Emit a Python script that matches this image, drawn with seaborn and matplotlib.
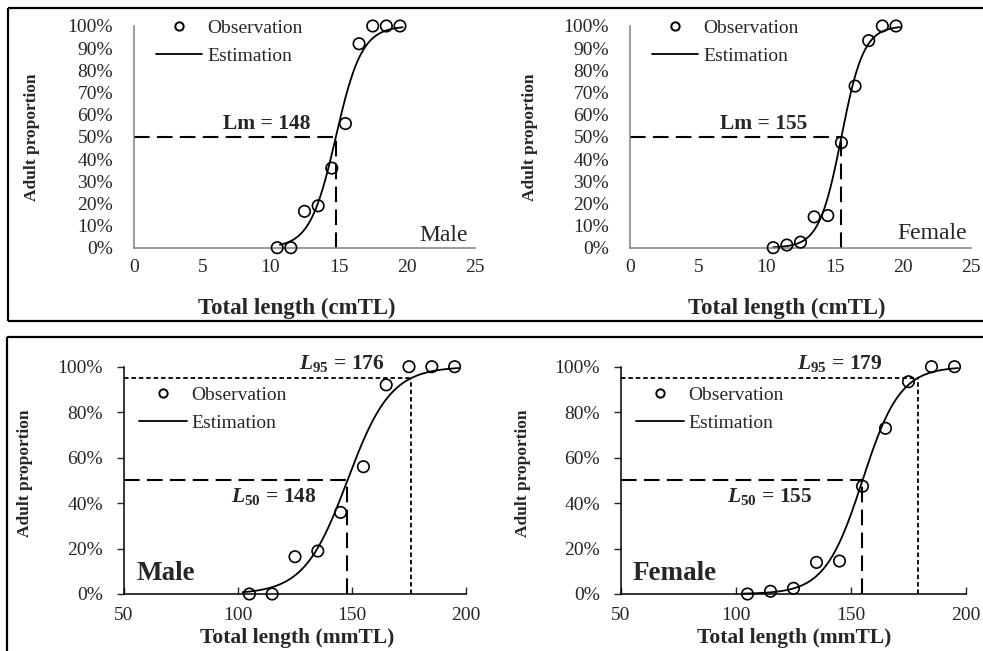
import numpy as np
import pandas as pd
import matplotlib
matplotlib.use("Agg")
import matplotlib.pyplot as plt
from matplotlib.lines import Line2D
import seaborn as sns

sns.set_style("white")
plt.rcParams['font.family'] = ['Liberation Serif', 'DejaVu Serif']
plt.rcParams['mathtext.fontset'] = 'custom'
plt.rcParams['mathtext.rm'] = 'Liberation Serif'
plt.rcParams['mathtext.it'] = 'Liberation Serif:italic'
plt.rcParams['mathtext.bf'] = 'Liberation Serif:bold'
plt.rcParams['mathtext.bfit'] = 'Liberation Serif:italic:bold'

# ---------------- data ----------------
length_cm = [10.5, 11.5, 12.5, 13.5, 14.5, 15.5, 16.5, 17.5, 18.5, 19.5]
length_mm = [105, 115, 125, 135, 145, 155, 165, 175, 185, 195]
male_pct = [0, 0, 16.4, 18.9, 35.9, 56.0, 92.0, 100, 100, 100]
female_pct = [0, 1.2, 2.5, 13.9, 14.5, 47.4, 72.9, 93.4, 100, 100]

male_L50, male_L95 = 148, 176        # mm
female_L50, female_L95 = 155, 179    # mm

pct_ticks_top = [0, 10, 20, 30, 40, 50, 60, 70, 80, 90, 100]
pct_ticks_bottom = [0, 20, 40, 60, 80, 100]
x_ticks_cm = [0, 5, 10, 15, 20, 25]
x_ticks_mm = [50, 100, 150, 200]

obs_label = "Observation"
est_label = "Estimation"
ylab = "Adult proportion"
xlab_cm = "Total length (cmTL)"
xlab_mm = "Total length (mmTL)"


def logistic(L, L50, L95):
    r = np.log(19.0) / (L95 - L50)
    return 100.0 / (1.0 + np.exp(-r * (L - L50)))


W, H = 983, 651
fig = plt.figure(figsize=(W / 100, H / 100), dpi=100)


def px_axes(left, right, top, bottom):
    return fig.add_axes([left / W, 1 - bottom / H, (right - left) / W, (bottom - top) / H])


def fig_line(x0, y0, x1, y1):
    fig.add_artist(Line2D([x0 / W, x1 / W], [1 - y0 / H, 1 - y1 / H], color='black',
                          lw=1.6, transform=fig.transFigure, solid_capstyle='butt'))


# boxes
fig_line(8, 8, 983, 8)
fig_line(8, 8, 8, 320.5)
fig_line(8, 320.5, 983, 320.5)
fig_line(7, 336.5, 983, 336.5)
fig_line(7, 336.5, 7, 651)

CURVE_LW = 1.3
DASH = (0, (7.5, 3.5))
DOT = (0, (2.5, 1.6))


def draw_panel(ax, xs, obs, L50, L95, unit, curve_range, top):
    cx = np.linspace(curve_range[0], curve_range[1], 300)
    cy = logistic(cx * unit, L50, L95)
    sns.lineplot(x=cx, y=cy, ax=ax, color='black', lw=CURVE_LW, zorder=2)
    ax.lines[-1].set_clip_on(False)
    sns.scatterplot(x=xs, y=obs, ax=ax, s=68, marker='o', zorder=3)
    coll = ax.collections[-1]
    coll.set_facecolor('none')
    coll.set_edgecolor('black')
    coll.set_linewidth(1.2)
    coll.set_clip_on(False)

    x50 = L50 / unit
    x0 = ax.get_xlim()[0]
    ax.plot([x0, x50], [50, 50], color='black', ls=DASH, lw=1.5, zorder=1)
    ax.plot([x50, x50], [0, 50], color='black', ls=DASH, lw=1.5, zorder=1)
    if not top:
        x95 = L95 / unit
        ax.plot([x0, x95], [95, 95], color='black', ls=DOT, lw=1.3, zorder=1)
        ax.plot([x95, x95], [0, 95], color='black', ls=DOT, lw=1.3, zorder=1)

    for s in ['top', 'right']:
        ax.spines[s].set_visible(False)
    ax.set_facecolor('none')

    handles = [Line2D([], [], marker='o', ls='none', mfc='none', mec='black', ms=6, mew=1.4),
               Line2D([], [], color='black', lw=CURVE_LW)]
    return handles


# ---------- top-left ----------
ax1 = px_axes(134, 475, 26, 247.7)
ax1.set_xlim(0, 25)
ax1.set_ylim(0, 100)
h = draw_panel(ax1, length_cm, male_pct, male_L50, male_L95, 10, (10.7, 19.7), True)
# ---------- top-right ----------
ax2 = px_axes(630, 971, 26, 247.7)
ax2.set_xlim(0, 25)
ax2.set_ylim(0, 100)
draw_panel(ax2, length_cm, female_pct, female_L50, female_L95, 10, (10.5, 19.8), True)
# ---------- bottom-left ----------
ax3 = px_axes(124, 466, 366.7, 594)
ax3.set_xlim(50, 200)
ax3.set_ylim(0, 100)
draw_panel(ax3, length_mm, male_pct, male_L50, male_L95, 1, (102, 197), False)
# ---------- bottom-right ----------
ax4 = px_axes(621, 966, 366.7, 594)
ax4.set_xlim(50, 200)
ax4.set_ylim(0, 100)
draw_panel(ax4, length_mm, female_pct, female_L50, female_L95, 1, (103, 196.5), False)

TICK_FS = 14
LEG_FS = 14
XLAB_FS = 16.5
for ax in (ax1, ax2):
    ax.set_xticks(x_ticks_cm)
    ax.set_xticklabels([str(v) for v in x_ticks_cm])
    ax.set_yticks(pct_ticks_top)
    ax.set_yticklabels([f"{v}%" for v in pct_ticks_top])
    ax.tick_params(axis='y', length=0, pad=15, labelsize=TICK_FS)
    ax.tick_params(axis='x', length=0, pad=8, labelsize=TICK_FS)
    for s in ['left', 'bottom']:
        ax.spines[s].set_color('#808080')
        ax.spines[s].set_linewidth(1.1)
    ax.set_xlabel(xlab_cm, fontsize=XLAB_FS, fontweight='bold', va='center')
    ax.set_ylabel(ylab, fontsize=12.5, fontweight='bold', va='center')
    ax.legend(h, [obs_label, est_label], loc='upper left', bbox_to_anchor=(0.064, 1.03),
              frameon=False, fontsize=LEG_FS, handlelength=2.4, handletextpad=0.25,
              labelspacing=0.55, borderpad=0, borderaxespad=0, numpoints=1)

ax1.xaxis.set_label_coords(0.478, -0.272)
ax2.xaxis.set_label_coords(0.46, -0.272)
ax1.yaxis.set_label_coords(-0.299, 0.5)
ax2.yaxis.set_label_coords(-0.293, 0.5)

for ax in (ax3, ax4):
    ax.set_xticks(x_ticks_mm)
    ax.set_xticklabels([str(v) for v in x_ticks_mm])
    ax.set_yticks(pct_ticks_bottom)
    ax.set_yticklabels([f"{v}%" for v in pct_ticks_bottom])
    ax.tick_params(axis='y', direction='out', length=5, width=1, pad=10, labelsize=TICK_FS, left=True)
    ax.tick_params(axis='x', direction='in', length=5, width=1, pad=9, labelsize=TICK_FS, bottom=True)
    for s in ['left', 'bottom']:
        ax.spines[s].set_color('black')
        ax.spines[s].set_linewidth(1.1)
    ax.set_xlabel(xlab_mm, fontsize=15.5, fontweight='bold', va='center')
    ax.set_ylabel(ylab, fontsize=12.5, fontweight='bold', va='center')
    ax.legend(h, [obs_label, est_label], loc='upper left', bbox_to_anchor=(0.043, 0.915),
              frameon=False, fontsize=LEG_FS, handlelength=2.5, handletextpad=0.2,
              labelspacing=0.55, borderpad=0, borderaxespad=0, numpoints=1)

ax3.xaxis.set_label_coords(0.507, -0.195)
ax4.xaxis.set_label_coords(0.501, -0.195)
ax3.yaxis.set_label_coords(-0.289, 0.532)
ax4.yaxis.set_label_coords(-0.284, 0.532)

# annotations
ANN_FS = 15.5
ax1.text(9.75, 55.8, f"Lm = {male_L50}", ha='center', va='center', fontsize=ANN_FS, fontweight='bold')
ax2.text(9.82, 55.8, f"Lm = {female_L50}", ha='center', va='center', fontsize=ANN_FS, fontweight='bold')
ax1.text(24.5, 5.7, "Male", ha='right', va='center', fontsize=17)
ax2.text(24.7, 6.6, "Female", ha='right', va='center', fontsize=17)

ax3.text(145.6, 101.6, r"$\mathbfit{L}_{\mathbf{95}}$" + f" = {male_L95}", ha='center', va='center',
         fontsize=ANN_FS, fontweight='bold')
ax3.text(115.8, 42.7, r"$\mathbfit{L}_{\mathbf{50}}$" + f" = {male_L50}", ha='center', va='center',
         fontsize=ANN_FS, fontweight='bold')
ax4.text(145.2, 101.6, r"$\mathbfit{L}_{\mathbf{95}}$" + f" = {female_L95}", ha='center', va='center',
         fontsize=ANN_FS, fontweight='bold')
ax4.text(114.8, 42.7, r"$\mathbfit{L}_{\mathbf{50}}$" + f" = {female_L50}", ha='center', va='center',
         fontsize=ANN_FS, fontweight='bold')
ax3.text(55.7, 8.8, "Male", ha='left', va='center', fontsize=19.5, fontweight='bold')
ax4.text(55.2, 8.8, "Female", ha='left', va='center', fontsize=19.5, fontweight='bold')

fig.savefig("out.png", dpi=100)
